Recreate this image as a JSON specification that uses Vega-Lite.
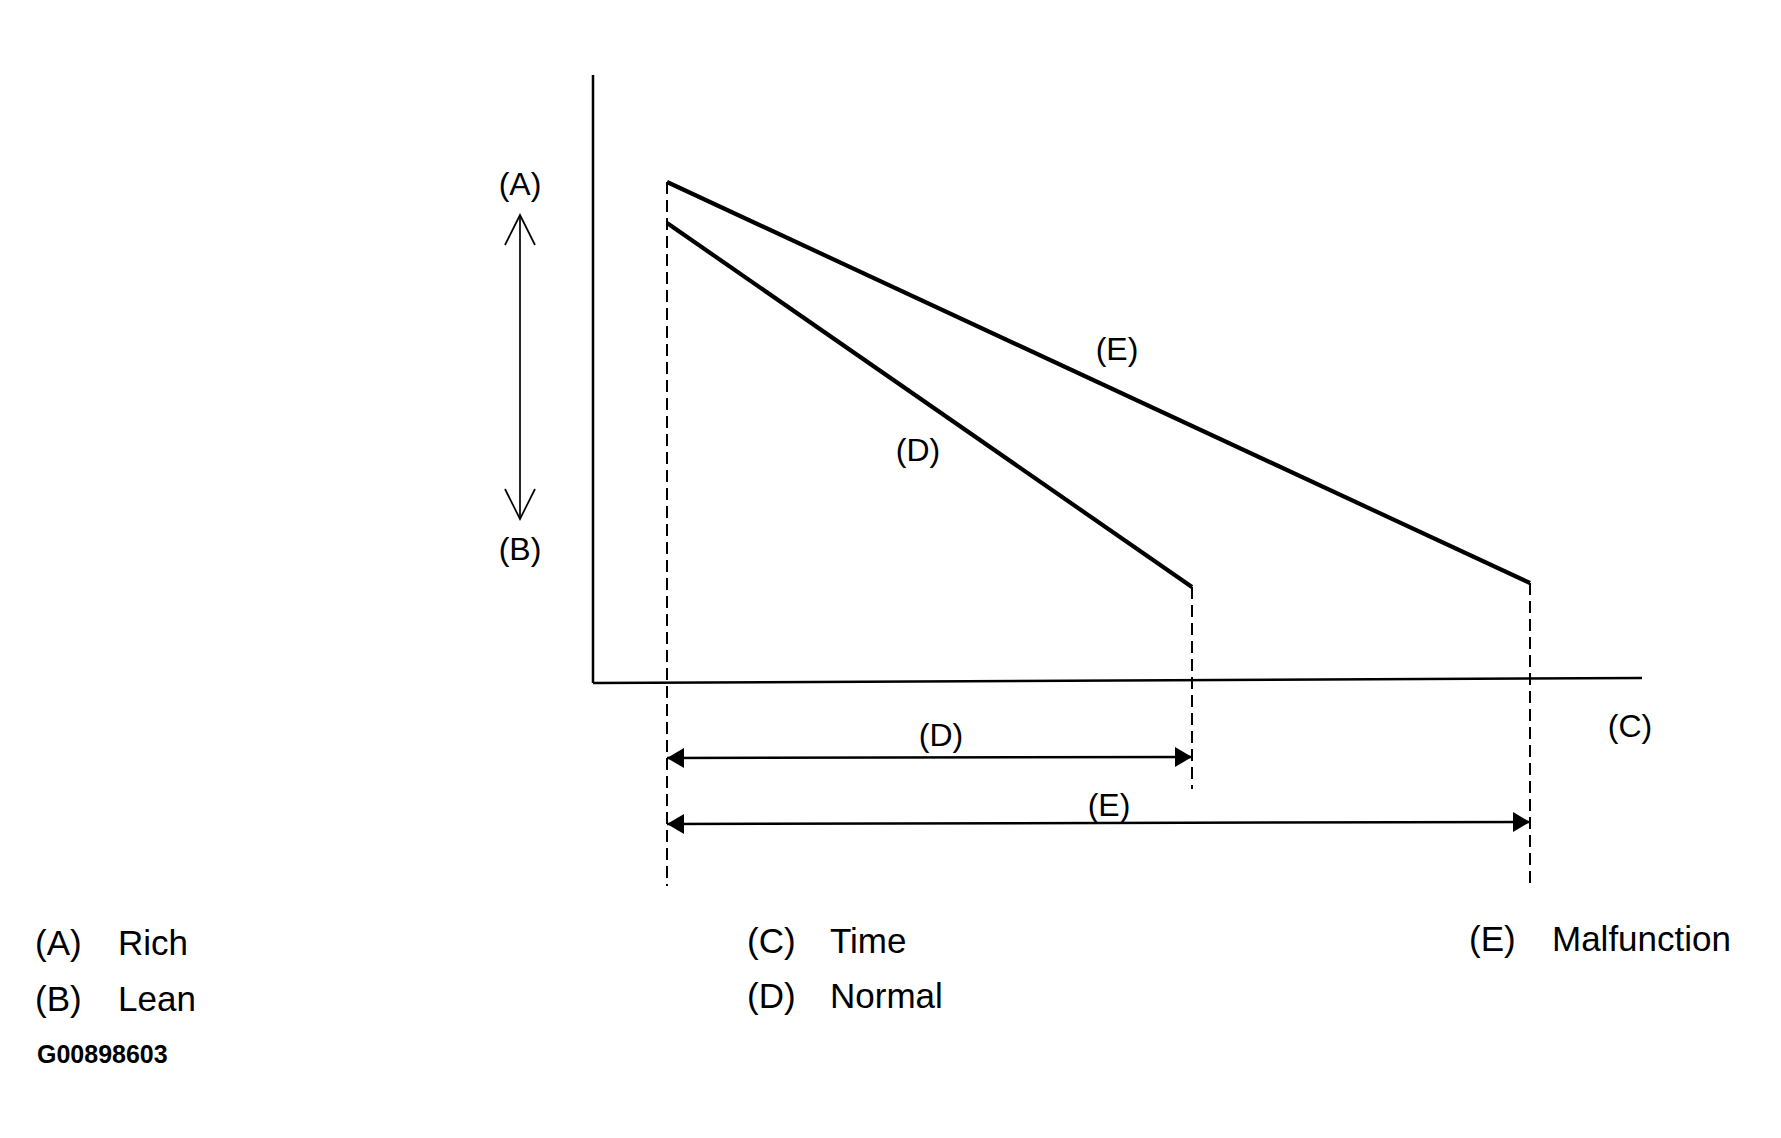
{
  "$schema": "https://vega.github.io/schema/vega-lite/v6.json",
  "width": 1781,
  "height": 1138,
  "autosize": {"type": "fit", "contains": "padding"},
  "padding": 0,
  "background": "white",
  "config": {"view": {"stroke": null}},
  "datasets": {
    "axes": [
      {"line": "mixture", "t": 0, "level": 60.8},
      {"line": "mixture", "t": 0, "level": 0},
      {"line": "time", "t": 0, "level": 0},
      {"line": "time", "t": 104.9, "level": 0.5}
    ],
    "trends": [
      {"series": "E", "t": 7.4, "level": 50.1},
      {"series": "E", "t": 93.7, "level": 10.0},
      {"series": "D", "t": 7.4, "level": 46.0},
      {"series": "D", "t": 59.9, "level": 9.6}
    ],
    "guides": [
      {"guide": "start", "t": 7.4, "level": 50.1},
      {"guide": "start", "t": 7.4, "level": -20.3},
      {"guide": "D end", "t": 59.9, "level": 9.6},
      {"guide": "D end", "t": 59.9, "level": -10.6},
      {"guide": "E end", "t": 93.7, "level": 10.0},
      {"guide": "E end", "t": 93.7, "level": -20.4}
    ],
    "spans": [
      {"span": "D", "end": "start", "t": 7.4, "level": -7.5},
      {"span": "D", "end": "finish", "t": 59.9, "level": -7.4},
      {"span": "E", "end": "start", "t": 7.4, "level": -14.1},
      {"span": "E", "end": "finish", "t": 93.7, "level": -13.9}
    ],
    "range": [
      {"end": "rich", "t": -7.3, "level": 46.8},
      {"end": "lean", "t": -7.3, "level": 16.4}
    ],
    "labels": [
      {"label": "(A)", "t": -7.3, "level": 49.8},
      {"label": "(B)", "t": -7.3, "level": 13.3},
      {"label": "(E)", "t": 52.4, "level": 33.3},
      {"label": "(D)", "t": 32.5, "level": 23.2},
      {"label": "(C)", "t": 103.7, "level": -4.4},
      {"label": "(D)", "t": 34.8, "level": -5.3},
      {"label": "(E)", "t": 51.6, "level": -12.3}
    ],
    "legend": [
      {"code": "(A)", "name": "Rich", "t": -55.8, "level": -26.1},
      {"code": "(B)", "name": "Lean", "t": -55.8, "level": -31.7},
      {"code": "(C)", "name": "Time", "t": 15.4, "level": -25.9},
      {"code": "(D)", "name": "Normal", "t": 15.4, "level": -31.4},
      {"code": "(E)", "name": "Malfunction", "t": 87.6, "level": -25.7}
    ],
    "figure": [
      {"id": "G00898603", "t": -55.6, "level": -37.2}
    ]
  },
  "resolve": {"scale": {"x": "shared", "y": "shared"}},
  "layer": [
    {
      "data": {"name": "axes"},
      "mark": {"type": "line", "color": "black", "strokeWidth": 2.5},
      "encoding": {
        "x": {"field": "t", "type": "quantitative", "scale": {"domain": [-59.3, 118.8], "nice": false, "zero": false}, "axis": null},
        "y": {"field": "level", "type": "quantitative", "scale": {"domain": [-45.5, 68.3], "nice": false, "zero": false}, "axis": null},
        "detail": {"field": "line"},
        "order": {"field": "t"}
      }
    },
    {
      "data": {"name": "trends"},
      "mark": {"type": "line", "color": "black", "strokeWidth": 4.2},
      "encoding": {
        "x": {"field": "t", "type": "quantitative"},
        "y": {"field": "level", "type": "quantitative"},
        "detail": {"field": "series"}
      }
    },
    {
      "data": {"name": "guides"},
      "mark": {"type": "line", "color": "black", "strokeWidth": 2, "strokeDash": [12, 6]},
      "encoding": {
        "x": {"field": "t", "type": "quantitative"},
        "y": {"field": "level", "type": "quantitative"},
        "detail": {"field": "guide"},
        "order": {"field": "level", "sort": "descending"}
      }
    },
    {
      "data": {"name": "spans"},
      "mark": {"type": "line", "color": "black", "strokeWidth": 2.5},
      "encoding": {
        "x": {"field": "t", "type": "quantitative"},
        "y": {"field": "level", "type": "quantitative"},
        "detail": {"field": "span"},
        "order": {"field": "t"}
      }
    },
    {
      "data": {"name": "spans"},
      "transform": [{"filter": "datum.end === 'start'"}],
      "mark": {"type": "point", "shape": "M0,0L1.7,-1L1.7,1Z", "filled": true, "color": "black", "opacity": 1, "size": 400, "strokeWidth": 0},
      "encoding": {
        "x": {"field": "t", "type": "quantitative"},
        "y": {"field": "level", "type": "quantitative"}
      }
    },
    {
      "data": {"name": "spans"},
      "transform": [{"filter": "datum.end === 'finish'"}],
      "mark": {"type": "point", "shape": "M0,0L-1.7,-1L-1.7,1Z", "filled": true, "color": "black", "opacity": 1, "size": 400, "strokeWidth": 0},
      "encoding": {
        "x": {"field": "t", "type": "quantitative"},
        "y": {"field": "level", "type": "quantitative"}
      }
    },
    {
      "data": {"name": "range"},
      "mark": {"type": "line", "color": "black", "strokeWidth": 1.7},
      "encoding": {
        "x": {"field": "t", "type": "quantitative"},
        "y": {"field": "level", "type": "quantitative"}
      }
    },
    {
      "data": {"name": "range"},
      "transform": [{"filter": "datum.end === 'rich'"}],
      "mark": {"type": "point", "shape": "M-1,2L0,0L1,2", "filled": false, "color": "black", "opacity": 1, "size": 900, "strokeWidth": 1.7},
      "encoding": {
        "x": {"field": "t", "type": "quantitative"},
        "y": {"field": "level", "type": "quantitative"}
      }
    },
    {
      "data": {"name": "range"},
      "transform": [{"filter": "datum.end === 'lean'"}],
      "mark": {"type": "point", "shape": "M-1,-2L0,0L1,-2", "filled": false, "color": "black", "opacity": 1, "size": 900, "strokeWidth": 1.7},
      "encoding": {
        "x": {"field": "t", "type": "quantitative"},
        "y": {"field": "level", "type": "quantitative"}
      }
    },
    {
      "data": {"name": "labels"},
      "mark": {"type": "text", "font": "Liberation Sans", "fontSize": 32, "color": "black", "align": "center", "baseline": "middle"},
      "encoding": {
        "x": {"field": "t", "type": "quantitative"},
        "y": {"field": "level", "type": "quantitative"},
        "text": {"field": "label"}
      }
    },
    {
      "data": {"name": "legend"},
      "mark": {"type": "text", "font": "Liberation Sans", "fontSize": 35, "color": "black", "align": "left", "baseline": "middle"},
      "encoding": {
        "x": {"field": "t", "type": "quantitative"},
        "y": {"field": "level", "type": "quantitative"},
        "text": {"field": "code"}
      }
    },
    {
      "data": {"name": "legend"},
      "mark": {"type": "text", "font": "Liberation Sans", "fontSize": 35, "color": "black", "align": "left", "baseline": "middle", "dx": 83},
      "encoding": {
        "x": {"field": "t", "type": "quantitative"},
        "y": {"field": "level", "type": "quantitative"},
        "text": {"field": "name"}
      }
    },
    {
      "data": {"name": "figure"},
      "mark": {"type": "text", "font": "Liberation Sans", "fontSize": 25, "fontWeight": "bold", "color": "black", "align": "left", "baseline": "middle"},
      "encoding": {
        "x": {"field": "t", "type": "quantitative"},
        "y": {"field": "level", "type": "quantitative"},
        "text": {"field": "id"}
      }
    }
  ]
}
